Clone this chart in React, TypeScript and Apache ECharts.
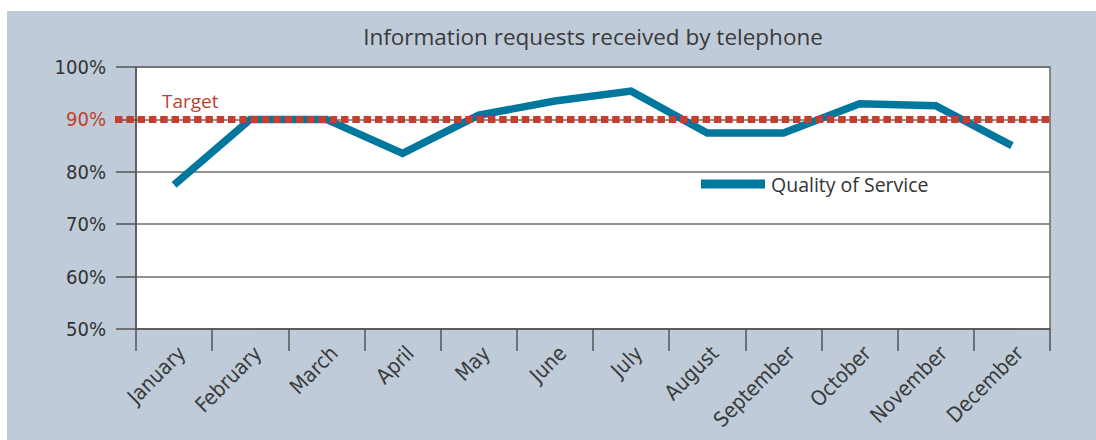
import React, { useEffect, useRef } from "react";
import * as echarts from "echarts";

const months = ["January", "February", "March", "April", "May", "June", "July", "August", "September", "October", "November", "December"];
const quality = [77.5, 90, 90, 83.5, 90.8, 93.5, 95.4, 87.4, 87.4, 93.0, 92.6, 85.0];
const targetValue = 90;
const yMin = 50;
const yMax = 100;
const yStep = 10;
const titleText = "Information requests received by telephone";
const seriesName = "Quality of Service";
const targetLabel = "Target";

const W = 1096;
const H = 440;
const condensed = "'DejaVu Sans Condensed', 'Roboto', sans-serif";
const humanist = "'Open Sans', 'Noto Sans', sans-serif";

export default function App() {
  const ref = useRef<HTMLDivElement>(null);
  useEffect(() => {
    if (!ref.current) return;
    const chart = echarts.init(ref.current, null, { renderer: "svg" });
    const option: any = {
      animation: false,
      backgroundColor: "#ffffff",
      title: {
        text: titleText,
        left: 588,
        top: 20,
        textAlign: "center",
        textStyle: { fontFamily: humanist, fontWeight: "normal", fontSize: 22.5, color: "#3a3a3a" },
      },
      legend: {
        left: 696,
        top: 169,
        icon: "rect",
        itemWidth: 64,
        itemHeight: 9,
        itemGap: 10,
        textStyle: { fontFamily: humanist, fontSize: 19.5, color: "#333333", padding: [0, 0, 0, 1] },
        data: [seriesName],
      },
      grid: {
        left: 136,
        top: 67,
        right: W - 1050,
        bottom: H - 329,
        show: true,
        backgroundColor: "#ffffff",
        borderColor: "#6a6a6a",
        borderWidth: 1.5,
      },
      xAxis: {
        type: "category",
        data: months,
        boundaryGap: true,
        axisLine: { lineStyle: { color: "#555555", width: 1.5 } },
        axisTick: { show: true, length: 22, lineStyle: { color: "#555555", width: 1.5 } },
        axisLabel: {
          rotate: 45,
          interval: 0,
          margin: 13,
          formatter: (v: string) => `{m|${v}}`,
          rich: {
            m: {
              padding: [22, 0, 0, 0],
              fontFamily: condensed,
              fontSize: 21,
              color: "#3a3a3a",
            },
          },
          fontFamily: condensed,
          fontSize: 21,
          color: "#3a3a3a",
        },
        splitLine: { show: false },
      },
      yAxis: {
        type: "value",
        min: yMin,
        max: yMax,
        interval: yStep,
        axisLine: { show: true, lineStyle: { color: "#555555", width: 1.5 } },
        axisTick: { show: true, length: 20, lineStyle: { color: "#555555", width: 1.5 } },
        axisLabel: {
          formatter: "{value}%",
          margin: 30,
          fontFamily: condensed,
          fontSize: 20,
          color: (v: any) => (Number(v) === targetValue ? "#c0412f" : "#333333"),
        },
        splitLine: { show: true, lineStyle: { color: "#6e6e6e", width: 1.5 } },
      },
      series: [
        {
          name: seriesName,
          type: "line",
          data: quality,
          symbol: "none",
          z: 3,
          lineStyle: { color: "#00779c", width: 7.5, join: "miter" },
          itemStyle: { color: "#00779c" },
        },
      ],
    };
    chart.setOption(option);

    const yT = chart.convertToPixel({ yAxisIndex: 0 }, targetValue) as number;
    const xStart = 115;
    const xEnd = 1050;
    chart.setOption({
      graphic: [
        {
          type: "rect",
          z: -10,
          silent: true,
          shape: { x: 7, y: 11, width: W - 7, height: H - 11 },
          style: { fill: "#bfcbd8" },
        },
        {
          type: "line",
          z: 100,
          silent: true,
          shape: { x1: xStart, y1: yT, x2: xEnd, y2: yT },
          style: { stroke: "#c63e30", lineWidth: 7, lineDash: [7.5, 3.8] },
        },
        {
          type: "text",
          z: 100,
          silent: true,
          x: 162,
          y: yT - 9,
          style: {
            text: targetLabel,
            fill: "#c0412f",
            font: `19px ${humanist}`,
            textAlign: "left",
            textVerticalAlign: "bottom",
          },
        },
      ],
    });
    return () => chart.dispose();
  }, []);
  return <div ref={ref} style={{ position: "fixed", left: 0, top: 0, width: W, height: H }} />;
}
